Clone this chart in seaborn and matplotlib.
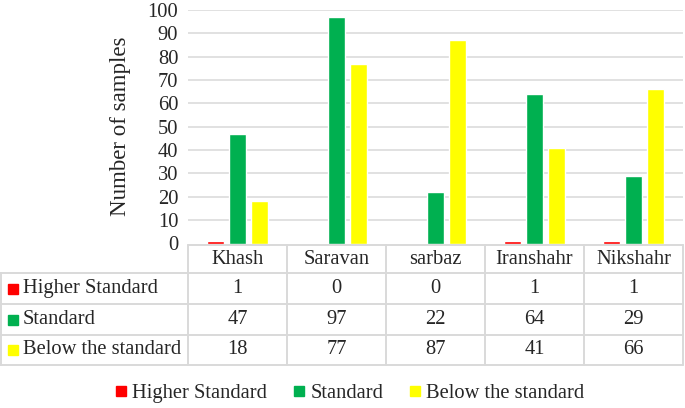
import matplotlib
matplotlib.use("Agg")
import matplotlib.pyplot as plt
import matplotlib.transforms as mtransforms
from matplotlib.lines import Line2D
import seaborn as sns
import pandas as pd

cities = ["Khash", "Saravan", "sarbaz", "Iranshahr", "Nikshahr"]
series = ["Higher Standard", "Standard", "Below the standard"]
higher = [1, 0, 0, 1, 1]
standard = [47, 97, 22, 64, 29]
below = [18, 77, 87, 41, 66]
colors = ["#FF0000", "#00B050", "#FFFF00"]

rows = []
for name, vals in zip(series, [higher, standard, below]):
    for c, v in zip(cities, vals):
        rows.append({"City": c, "Series": name, "Count": v})
df = pd.DataFrame(rows)

sns.set_style("white")
plt.rcParams["font.family"] = ["Liberation Serif", "DejaVu Serif"]
FS = 14.8
plt.rcParams["font.size"] = FS

W, H = 685, 408
fig = plt.figure(figsize=(W / 100, H / 100), dpi=100)
ax = fig.add_axes([188 / W, (H - 243.5) / H, 495 / W, 233.5 / H])
ax.patch.set_visible(False)

sns.barplot(data=df, x="City", y="Count", hue="Series", order=cities,
            hue_order=series, palette=colors, width=0.67, gap=0.2,
            saturation=1, ax=ax, legend=False, zorder=3)

ax.set_xlim(-0.5, len(cities) - 0.5)
ax.set_ylim(0, 100)
ax.set_yticks(range(0, 101, 10))
ax.set_xticks([])
ax.set_xlabel("")
ax.set_ylabel("Number of samples", fontsize=16.5, labelpad=12)
ax.tick_params(axis="y", length=0, pad=7, labelsize=FS)
ax.yaxis.grid(True, color="#D9D9D9", linewidth=1.1, zorder=0)
ax.get_ygridlines()[0].set_visible(False)
for s in ax.spines.values():
    s.set_visible(False)

# data table under the chart
grid_col = "#D9D9D9"
lw = 1.4
px = lambda x: x / W
py = lambda y: (H - y) / H
blend = mtransforms.blended_transform_factory(ax.transData, fig.transFigure)
row_y = [245, 273, 304, 335, 365]

# horizontal lines
fig.add_artist(Line2D([-0.5, len(cities) - 0.5], [py(245)] * 2, transform=blend,
                      color=grid_col, lw=lw, zorder=-1))
for y in row_y[1:]:
    fig.add_artist(Line2D([0, px(683)], [py(y)] * 2, transform=fig.transFigure,
                          color=grid_col, lw=lw, zorder=-1))
# vertical lines
fig.add_artist(Line2D([px(1), px(1)], [py(273), py(365)], transform=fig.transFigure,
                      color=grid_col, lw=lw, zorder=-1))
for i in range(len(cities) + 1):
    fig.add_artist(Line2D([i - 0.5] * 2, [py(245), py(365)], transform=blend,
                          color=grid_col, lw=lw, zorder=-1))

# header
for i, c in enumerate(cities):
    fig.text(i, py((245 + 273) / 2), c, transform=blend, ha="center", va="center")

# rows
for r, (name, vals, col) in enumerate(zip(series, [higher, standard, below], colors)):
    yc = py((row_y[r + 1] + row_y[r + 2]) / 2)
    fig.add_artist(Line2D([px(13)], [yc], transform=fig.transFigure, marker="s",
                          markersize=7.5, color=col, linestyle="none"))
    fig.text(px(23), yc, name, ha="left", va="center")
    for i, v in enumerate(vals):
        fig.text(i, yc, str(v), transform=blend, ha="center", va="center")

handles = [Line2D([], [], marker="s", linestyle="none", markersize=7.5, color=c)
           for c in colors]
fig.legend(handles, series, loc="center", bbox_to_anchor=(px(349.5), py(393)),
           ncol=3, frameon=False, handlelength=0.6, handletextpad=0.25,
           columnspacing=1.25, fontsize=FS)

fig.savefig("out.png", dpi=100)
